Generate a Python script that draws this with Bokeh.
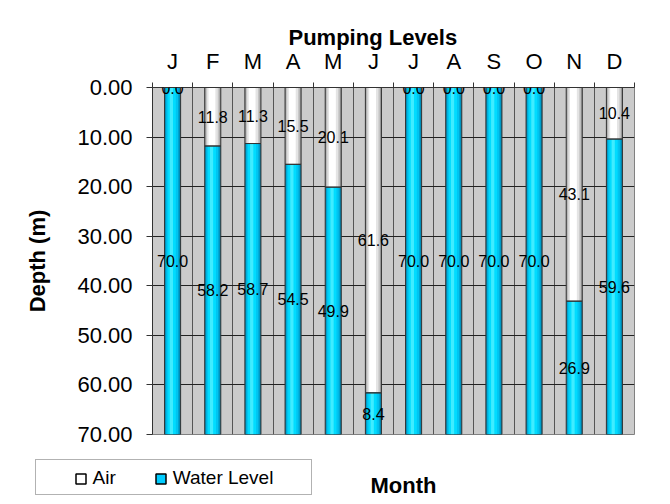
import numpy as np
from bokeh.plotting import figure
from bokeh.layouts import column
from bokeh.models import (Range1d, FixedTicker, ColumnDataSource, Legend, LegendItem,
                          Label, NumeralTickFormatter, LabelSet)
from bokeh.transform import dodge
from bokeh.core.properties import value
from bokeh.embed import file_html
from bokeh.resources import INLINE

# ---- data ----
months = ["J", "F", "M", "A", "M", "J", "J", "A", "S", "O", "N", "D"]
air = [0.0, 11.8, 11.3, 15.5, 20.1, 61.6, 0.0, 0.0, 0.0, 0.0, 43.1, 10.4]
water = [70.0, 58.2, 58.7, 54.5, 49.9, 8.4, 70.0, 70.0, 70.0, 70.0, 26.9, 59.6]
depth_ticks = [0, 10, 20, 30, 40, 50, 60, 70]

FONT = "Liberation Sans"

xs = list(range(1, len(months) + 1))
bounds = [v - 0.5 for v in xs] + [xs[-1] + 0.5]
src = ColumnDataSource(dict(
    x=xs,
    zero=[0.0] * len(xs),
    air=air,
    wtop=[a + w for a, w in zip(air, water)],
    air_mid=[a / 2 for a in air],
    water_mid=[a + w / 2 for a, w in zip(air, water)],
    air_lbl=[f"{a:.1f}" for a in air],
    water_lbl=[f"{w:.1f}" for w in water],
))

p = figure(width=670, height=450,
           min_border_left=152, min_border_right=36,
           min_border_top=87, min_border_bottom=16,
           x_range=Range1d(bounds[0], bounds[-1]),
           y_range=Range1d(depth_ticks[-1], depth_ticks[0]),
           x_axis_location="above",
           output_backend="svg", toolbar_location=None,
           background_fill_color="#cbcbcb", border_fill_color="white",
           outline_line_color="#808080")
p.frame_align = False

BW = 0.40
air_layers = [(0.40, 0.0, "#9c9c9c"), (0.34, -0.005, "#c4c4c4"),
              (0.27, -0.01, "#e4e4e4"), (0.17, -0.02, "#ffffff")]
water_layers = [(0.40, 0.0, "#007ea6"), (0.35, -0.005, "#00a4d0"),
                (0.29, -0.01, "#00c4f0"), (0.20, -0.02, "#00dcff"),
                (0.08, -0.03, "#40ecff")]

for w, off, c in air_layers:
    p.vbar(x=dodge("x", off, range=p.x_range), width=w, bottom="zero", top="air",
           source=src, fill_color=c, line_color=None)
for w, off, c in water_layers:
    p.vbar(x=dodge("x", off, range=p.x_range), width=w, bottom="air", top="wtop",
           source=src, fill_color=c, line_color=None)
# outlines
p.vbar(x="x", width=BW, bottom="zero", top="air", source=src,
       fill_alpha=0, line_color="#333333", line_width=1)
p.vbar(x="x", width=BW, bottom="air", top="wtop", source=src,
       fill_alpha=0, line_color="#333333", line_width=1)

for ycol, tcol in (("air_mid", "air_lbl"), ("water_mid", "water_lbl")):
    p.add_layout(LabelSet(x="x", y=ycol, text=tcol, source=src,
                          text_align="center", text_baseline="middle",
                          text_font=value(FONT), text_font_size="16px",
                          text_color="black"))

# ---- axes ----
xa = p.xaxis[0]
xa.ticker = FixedTicker(ticks=xs, minor_ticks=bounds)
xa.major_label_overrides = {v: m for v, m in zip(xs, months)}
xa.major_tick_out = 0
xa.major_tick_in = 0
xa.minor_tick_out = 5
xa.minor_tick_in = 0
xa.minor_tick_line_color = "#333333"
xa.axis_line_color = "#333333"
xa.major_label_text_font = FONT
xa.major_label_text_font_size = "22px"
xa.major_label_text_color = "black"
xa.major_label_standoff = 9

ya = p.yaxis[0]
ya.ticker = FixedTicker(ticks=depth_ticks)
ya.formatter = NumeralTickFormatter(format="0.00")
ya.major_tick_out = 6
ya.major_tick_in = 0
ya.minor_tick_out = 0
ya.minor_tick_in = 0
ya.major_tick_line_color = "#333333"
ya.axis_line_color = "#333333"
ya.major_label_text_font = FONT
ya.major_label_text_font_size = "22px"
ya.major_label_text_color = "black"
ya.major_label_standoff = 14
ya.axis_label = "Depth (m)"
ya.axis_label_text_font = FONT
ya.axis_label_text_font_size = "22px"
ya.axis_label_text_font_style = "bold"
ya.axis_label_text_color = "black"
ya.axis_label_standoff = 24

p.xgrid.ticker = FixedTicker(ticks=bounds)
p.xgrid.grid_line_color = "#555555"
p.ygrid.grid_line_color = "#222222"

p.title.text = "Pumping Levels"
p.title.align = "left"
p.title.offset = 136
p.title.standoff = -9
p.title.text_font = FONT
p.title.text_font_size = "22px"
p.title.text_font_style = "bold"
p.title.text_color = "black"

# ---- bottom strip: legend + x-axis title ----
p2 = figure(width=670, height=54, title=None,
            x_range=Range1d(0, 670), y_range=Range1d(0, 54),
            x_axis_location=None, y_axis_location=None,
            min_border_left=0, min_border_right=0,
            min_border_top=0, min_border_bottom=0,
            output_backend="svg", toolbar_location=None,
            outline_line_color=None, background_fill_color="white",
            border_fill_color="white")
p2.frame_align = False
p2.grid.visible = False

p2.add_layout(Label(x=370, y=19, x_units="screen", y_units="screen",
                    text="Month", text_font=FONT, text_font_size="22px",
                    text_font_style="bold", text_color="black",
                    text_align="left", text_baseline="alphabetic"))

# legend proxies (points lie outside the visible range)
box_proxy = p2.scatter(x=[-100], y=[-100], marker="square", fill_alpha=0, line_alpha=0)
air_proxy = p2.scatter(x=[-100], y=[-100], marker="square", fill_color="white",
                       line_color="black", line_width=1.5)
water_proxy = p2.scatter(x=[-100], y=[-100], marker="square", fill_color="#00ccff",
                         line_color="black", line_width=1.5)

box_leg = Legend(items=[LegendItem(label=" ", renderers=[box_proxy])],
                 location=(35, 9), glyph_width=275, glyph_height=34,
                 padding=0, spacing=0, margin=0, label_standoff=0,
                 label_width=0, label_height=0, label_text_font_size="1px",
                 border_line_color="#666666", border_line_width=1,
                 background_fill_color="white", background_fill_alpha=1)
leg = Legend(items=[LegendItem(label="Air", renderers=[air_proxy]),
                    LegendItem(label="Water Level", renderers=[water_proxy])],
             location=(67.5, 13.5), orientation="horizontal",
             glyph_width=25, glyph_height=25, label_standoff=-5, spacing=32,
             padding=0, margin=0, label_width=0, label_height=0,
             label_text_font=FONT, label_text_font_size="19px",
             label_text_color="black",
             border_line_alpha=0, background_fill_alpha=0)
p2.add_layout(box_leg)
p2.add_layout(leg)

layout = column(p, p2, spacing=0)
open("out.html", "w").write(file_html(layout, INLINE))
